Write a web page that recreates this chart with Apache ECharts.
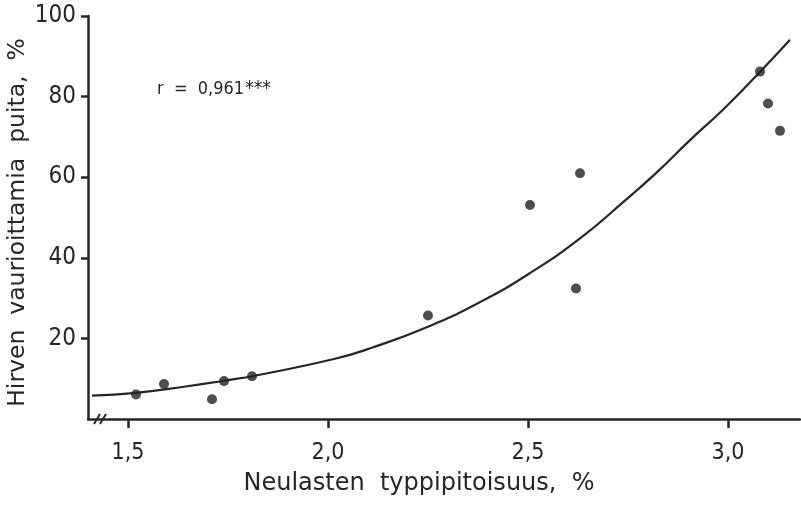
<!DOCTYPE html>
<html>
<head>
<meta charset="utf-8">
<script src="https://cdn.jsdelivr.net/npm/echarts@6/dist/echarts.min.js"></script>
<style>
  html, body { margin: 0; padding: 0; background: #fff; }
  #chart { width: 801px; height: 505px; }
</style>
</head>
<body>
<div id="chart"></div>
<script>
// Needle nitrogen content (%) and share of moose-damaged trees (%)
const nitrogen = [1.52, 1.59, 1.71, 1.74, 1.81, 2.25, 2.505, 2.62, 2.63, 3.08, 3.10, 3.13];
const damage   = [6.1, 8.7, 4.9, 9.4, 10.6, 25.7, 53.1, 32.4, 61.0, 86.2, 78.3, 71.5];

// Fitted regression curve, sampled along its length
const curveX = [1.41, 1.52, 1.64, 1.74, 1.82, 2.02, 2.11, 2.25, 2.38, 2.505, 2.63, 2.74, 2.82, 2.905, 2.99, 3.075, 3.155];
const curveY = [5.8, 6.5, 8.0, 9.5, 10.8, 15.0, 17.7, 22.9, 29.0, 36.2, 44.8, 54.0, 61.0, 69.2, 77.0, 85.6, 94.1];

const xTicks = [1.5, 2.0, 2.5, 3.0];
const yTicks = [20, 40, 60, 80, 100];

const xTitle = 'Neulasten  typpipitoisuus,  %';
const yTitle = 'Hirven  vaurioittamia  puita,  %';
const corrText = 'r  =  0,961';
const corrStars = '***';

const ink = '#262626';
const font = '"DejaVu Sans Condensed", "DejaVu Sans", sans-serif';
const titleFont = '"DejaVu Sans", sans-serif';

const chart = echarts.init(document.getElementById('chart'), null, { renderer: 'canvas' });

const option = {
  backgroundColor: '#ffffff',
  animation: false,
  grid: { left: 88, right: 1, top: 16, bottom: 86, containLabel: false, outerBoundsMode: 'none' },
  xAxis: {
    type: 'value',
    min: 1.4,
    max: 3.18,
    splitLine: { show: false },
    axisLine: { show: true, lineStyle: { color: ink, width: 2.5 } },
    axisTick: { show: true, customValues: xTicks, length: 9, lineStyle: { color: ink, width: 2.5 } },
    axisLabel: {
      customValues: xTicks,
      margin: 23,
      color: ink,
      fontFamily: font,
      fontSize: 23,
      formatter: v => v.toFixed(1).replace('.', ',')
    },
    name: xTitle,
    nameLocation: 'middle',
    nameGap: 53,
    nameMoveOverlap: false,
    nameTextStyle: { color: ink, fontFamily: titleFont, fontSize: 24, padding: [0, 50, 0, 0] }
  },
  yAxis: {
    type: 'value',
    min: 0,
    max: 100,
    splitLine: { show: false },
    axisLine: { show: true, lineStyle: { color: ink, width: 2.5 } },
    axisTick: { show: true, customValues: yTicks, length: 7, lineStyle: { color: ink, width: 2.5 } },
    axisLabel: {
      customValues: yTicks,
      margin: 12,
      color: ink,
      fontFamily: font,
      fontSize: 24
    },
    name: yTitle,
    nameLocation: 'middle',
    nameGap: 58,
    nameMoveOverlap: false,
    nameRotate: 90,
    nameTextStyle: { color: ink, fontFamily: titleFont, fontSize: 23.5, padding: [0, 10, 0, 0] }
  },
  series: [
    {
      type: 'line',
      data: curveX.map((x, i) => [x, curveY[i]]),
      smooth: 0.5,
      showSymbol: false,
      lineStyle: { color: ink, width: 2.2 },
      z: 2
    },
    {
      type: 'scatter',
      data: nitrogen.map((x, i) => [x, damage[i]]),
      symbol: 'circle',
      symbolSize: 10,
      itemStyle: { color: '#222' },
      z: 3
    }
  ],
  graphic: [
    {
      type: 'text',
      left: 157,
      top: 80,
      style: {
        text: '{a|' + corrText + '}{s|' + corrStars + '}',
        rich: {
          a: { fontFamily: font, fontSize: 18, lineHeight: 24, fill: ink, verticalAlign: 'middle' },
          s: { fontFamily: font, fontSize: 19, lineHeight: 24, fill: ink, verticalAlign: 'middle', padding: [0, 0, 0, 1] }
        }
      }
    }
  ]
};

chart.setOption(option);

// Axis break marks drawn just after the x-axis origin
const bp = chart.convertToPixel({ gridIndex: 0 }, [1.43, 0]);
chart.setOption({
  graphic: [
    option.graphic[0],
    {
      type: 'group',
      x: bp[0],
      y: bp[1],
      children: [
        { type: 'line', shape: { x1: -6, y1: 5, x2: 0, y2: -5 }, style: { stroke: ink, lineWidth: 2 } },
        { type: 'line', shape: { x1: 0, y1: 5, x2: 6, y2: -5 }, style: { stroke: ink, lineWidth: 2 } }
      ]
    }
  ]
});
</script>
</body>
</html>
